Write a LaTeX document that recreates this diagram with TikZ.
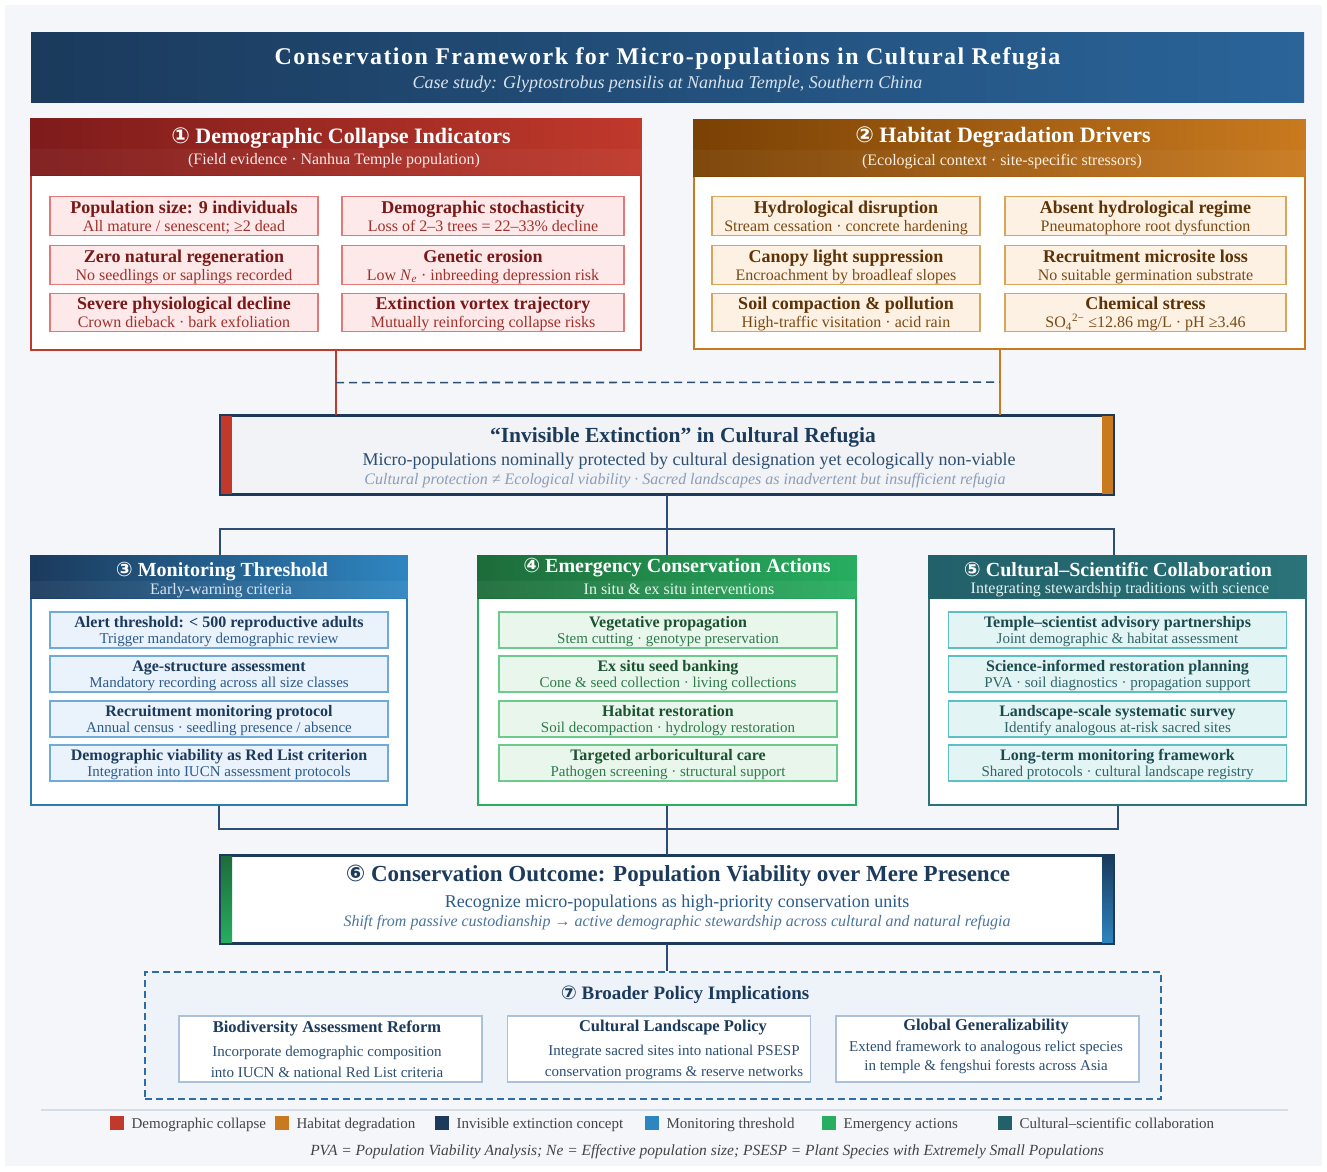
\documentclass[tikz,border=0pt]{standalone}
\usepackage{fontspec}
\setmainfont{Liberation Serif}
\newfontfamily\numfont{DejaVu Sans}
\usetikzlibrary{calc}

\newcommand{\fsz}[2]{\fontsize{#1}{#2}\selectfont}
\newcommand{\cn}[1]{{\numfont #1}}

\definecolor{pagebg}{HTML}{F4F6FA}
\definecolor{conceptbg}{HTML}{F1F3F6}
\definecolor{navy}{HTML}{1B3A5C}
\definecolor{navyB}{HTML}{2A6499}
\definecolor{linknavy}{HTML}{2C4E72}
\definecolor{mutedblue}{HTML}{8C9CB6}
\definecolor{redA}{HTML}{7E1B1B}
\definecolor{redB}{HTML}{C0392B}
\definecolor{redfill}{HTML}{FDE9E9}
\definecolor{rededge}{HTML}{E27878}
\definecolor{redtext}{HTML}{7A1818}
\definecolor{redsub}{HTML}{A0302A}
\definecolor{orA}{HTML}{7A4104}
\definecolor{orB}{HTML}{C97A1F}
\definecolor{orfill}{HTML}{FDF1E3}
\definecolor{oredge}{HTML}{D9A45C}
\definecolor{ortext}{HTML}{5C3206}
\definecolor{orsub}{HTML}{7B4A14}
\definecolor{blB}{HTML}{2E86C1}
\definecolor{blfill}{HTML}{EAF2FB}
\definecolor{bledge}{HTML}{6FAADB}
\definecolor{blsub}{HTML}{2B5B8C}
\definecolor{grA}{HTML}{1D6B3A}
\definecolor{grB}{HTML}{27AE60}
\definecolor{grfill}{HTML}{E8F6EC}
\definecolor{gredge}{HTML}{6CCB8C}
\definecolor{grtext}{HTML}{1B5230}
\definecolor{grsub}{HTML}{2F7A4C}
\definecolor{tlA}{HTML}{22606A}
\definecolor{tlB}{HTML}{2A7378}
\definecolor{tlfill}{HTML}{E3F4F4}
\definecolor{tledge}{HTML}{5BBFC4}
\definecolor{tltext}{HTML}{1B4A4E}
\definecolor{tlsub}{HTML}{2F6468}
\definecolor{polfill}{HTML}{EEF3F9}
\definecolor{poledge}{HTML}{A9C1DA}
\definecolor{polline}{HTML}{2E6CA8}
\definecolor{sepline}{HTML}{D5DEE8}
\definecolor{legtext}{HTML}{444444}

\begin{document}
\begin{tikzpicture}[x=1pt, y=-1pt,
    every node/.style={inner sep=0pt, align=center},
    frame/.style={draw, fill=white, line width=1.6pt},
    hdtitle/.style={text=white, font=\fsz{22}{24}\bfseries},
    hdsub/.style={font=\fsz{16}{18}},
    item/.style={draw, line width=1.2pt, text depth=0pt},
    bigitem/.style={item, minimum height=38.5pt, font=\fsz{16}{18}},
    smallitem/.style={item, minimum width=338pt, minimum height=36pt, font=\fsz{15}{16.5}},
    reditem/.style={bigitem, fill=redfill, draw=rededge, text=redsub},
    oritem/.style={bigitem, fill=orfill, draw=oredge, text=orsub},
    blitem/.style={smallitem, fill=blfill, draw=bledge, text=blsub},
    gritem/.style={smallitem, fill=grfill, draw=gredge, text=grsub},
    tlitem/.style={smallitem, fill=tlfill, draw=tledge, text=tlsub},
    link/.style={draw=linknavy, line width=2pt},
    polbox/.style={draw=poledge, fill=white, line width=1.2pt, minimum width=303pt, minimum height=66pt},
  ]

  % page
  \fill[white] (0,0) rectangle (1327,1171);
  \fill[pagebg] (5,5) rectangle (1322,1166);
  \useasboundingbox (0,0) rectangle (1327,1171);

  % banner
  \shade[left color=navy, right color=navyB] (31,32) rectangle (1304,102);
  \node[text=white, font=\fsz{24}{26}\bfseries\addfontfeatures{LetterSpace=6}] (title) at (667.5,59)
    {Conservation Framework for Micro-populations in Cultural Refugia};
  \node[text=white!82!navyB, font=\fsz{18}{20}\itshape] (subtitle) at (667.5,84)
    {Case study: Glyptostrobus pensilis at Nanhua Temple, Southern China};

  % panel 1: demographic collapse
  \node[frame, draw=redB, minimum width=610pt, minimum height=231pt] (p1) at (336,234.5) {};
  \shade[left color=redA, right color=redB] (p1.north west) rectangle ($(p1.north east)+(0,57)$);
  \fill[white, opacity=.04] ($(p1.north west)+(0,31)$) rectangle ($(p1.north east)+(0,57)$);
  \node[hdtitle] (p1t) at (341,138) {\cn{①} Demographic Collapse Indicators};
  \node[hdsub, text=redfill] (p1s) at (334,161) {(Field evidence · Nanhua Temple population)};

  \node[reditem, minimum width=268pt] (d1) at (184,216)
    {\textcolor{redtext}{\fsz{18}{18}\bfseries Population size: 9 individuals}\\All mature / senescent; ≥2 dead};
  \node[reditem, minimum width=282pt] (d2) at (483,216)
    {\textcolor{redtext}{\fsz{18}{18}\bfseries Demographic stochasticity}\\Loss of 2–3 trees = 22–33\% decline};
  \node[reditem, minimum width=268pt] (d3) at (184,265)
    {\textcolor{redtext}{\fsz{18}{18}\bfseries Zero natural regeneration}\\No seedlings or saplings recorded};
  \node[reditem, minimum width=282pt] (d4) at (483,265)
    {\textcolor{redtext}{\fsz{18}{18}\bfseries Genetic erosion}\\Low \textit{N}\textsubscript{\textit{e}} · inbreeding depression risk};
  \node[reditem, minimum width=268pt] (d5) at (184,312.5)
    {\textcolor{redtext}{\fsz{18}{18}\bfseries Severe physiological decline}\\Crown dieback · bark exfoliation};
  \node[reditem, minimum width=282pt] (d6) at (483,312.5)
    {\textcolor{redtext}{\fsz{18}{18}\bfseries Extinction vortex trajectory}\\Mutually reinforcing collapse risks};

  % panel 2: habitat degradation
  \node[frame, draw=orB, minimum width=611pt, minimum height=229pt] (p2) at (999.5,234.5) {};
  \shade[left color=orA, right color=orB] (p2.north west) rectangle ($(p2.north east)+(0,57)$);
  \fill[white, opacity=.04] ($(p2.north west)+(0,31)$) rectangle ($(p2.north east)+(0,57)$);
  \node[hdtitle] (p2t) at (1003,137) {\cn{②} Habitat Degradation Drivers};
  \node[hdsub, text=orfill] (p2s) at (1002,162) {(Ecological context · site-specific stressors)};

  \node[oritem, minimum width=268pt] (h1) at (846,216)
    {\textcolor{ortext}{\fsz{18}{18}\bfseries Hydrological disruption}\\Stream cessation · concrete hardening};
  \node[oritem, minimum width=281pt] (h2) at (1145.5,216)
    {\textcolor{ortext}{\fsz{18}{18}\bfseries Absent hydrological regime}\\Pneumatophore root dysfunction};
  \node[oritem, minimum width=268pt] (h3) at (846,265)
    {\textcolor{ortext}{\fsz{18}{18}\bfseries Canopy light suppression}\\Encroachment by broadleaf slopes};
  \node[oritem, minimum width=281pt] (h4) at (1145.5,265)
    {\textcolor{ortext}{\fsz{18}{18}\bfseries Recruitment microsite loss}\\No suitable germination substrate};
  \node[oritem, minimum width=268pt] (h5) at (846,312.5)
    {\textcolor{ortext}{\fsz{18}{18}\bfseries Soil compaction \& pollution}\\High-traffic visitation · acid rain};
  \node[oritem, minimum width=281pt] (h6) at (1145.5,312.5)
    {\textcolor{ortext}{\fsz{18}{18}\bfseries Chemical stress}\\SO\textsubscript{4}\textsuperscript{2−} ≤12.86 mg/L · pH ≥3.46};

  % central concept
  \node[draw=navy, fill=conceptbg, line width=2pt, minimum width=892pt, minimum height=78pt] (ie) at (667,454.5) {};
  \fill[redB] (ie.north west) rectangle ($(ie.south west)+(12,0)$);
  \fill[orB] ($(ie.north east)+(-12,0)$) rectangle (ie.south east);
  \draw[navy, line width=2pt] (ie.north west) rectangle (ie.south east);
  \node[text=navy, font=\fsz{21.5}{24}\bfseries] (iet) at (683,437) {“Invisible Extinction” in Cultural Refugia};
  \node[text=linknavy, font=\fsz{18}{20}] (ies) at (689,461)
    {Micro-populations nominally protected by cultural designation yet ecologically non-viable};
  \node[text=mutedblue, font=\fsz{16}{18}\itshape] (iei) at (685,481)
    {Cultural protection ≠ Ecological viability · Sacred landscapes as inadvertent but insufficient refugia};

  % links into the concept box
  \draw[redB, line width=2pt] (p1.south) -- (p1.south |- ie.north);
  \draw[orB, line width=2pt] (p2.south) -- (p2.south |- ie.north);
  \draw[linknavy, line width=1.6pt, dash pattern=on 8pt off 5pt]
    ($(p1.south)!.5!(p1.south |- ie.north)$) -- ($(p2.south)!.5!(p2.south |- ie.north)$);

  % panel 3: monitoring
  \node[frame, draw=blB!85!navy, minimum width=376pt, minimum height=249pt] (p3) at (219,680.5) {};
  \shade[left color=navy, right color=blB] (p3.north west) rectangle ($(p3.north east)+(0,43)$);
  \fill[white, opacity=.05] ($(p3.north west)+(0,26)$) rectangle ($(p3.north east)+(0,43)$);
  \node[hdtitle, font=\fsz{20}{22}\bfseries] (p3t) at (222,572) {\cn{③} Monitoring Threshold};
  \node[hdsub, text=blfill!90!blB] (p3s) at (221,591) {Early-warning criteria};

  \node[blitem] (m1) at (219,630) {\textcolor{navy}{\bfseries\fsz{16}{16.5}Alert threshold: < 500 reproductive adults}\\Trigger mandatory demographic review};
  \node[blitem] (m2) at (219,674) {\textcolor{navy}{\bfseries\fsz{16}{16.5}Age-structure assessment}\\Mandatory recording across all size classes};
  \node[blitem] (m3) at (219,719) {\textcolor{navy}{\bfseries\fsz{16}{16.5}Recruitment monitoring protocol}\\Annual census · seedling presence / absence};
  \node[blitem] (m4) at (219,763) {\textcolor{navy}{\bfseries\fsz{16}{16.5}Demographic viability as Red List criterion}\\Integration into IUCN assessment protocols};

  % panel 4: emergency actions
  \node[frame, draw=grB, minimum width=378pt, minimum height=249pt] (p4) at (667,680.5) {};
  \shade[left color=grA, right color=grB] (p4.north west) rectangle ($(p4.north east)+(0,43)$);
  \fill[white, opacity=.05] ($(p4.north west)+(0,26)$) rectangle ($(p4.north east)+(0,43)$);
  \node[hdtitle, font=\fsz{20}{22}\bfseries] (p4t) at (677,568) {\cn{④} Emergency Conservation Actions};
  \node[hdsub, text=grfill] (p4s) at (679,589) {In situ \& ex situ interventions};

  \node[gritem] (e1) at (668,630) {\textcolor{grtext}{\bfseries\fsz{16}{16.5}Vegetative propagation}\\Stem cutting · genotype preservation};
  \node[gritem] (e2) at (668,674) {\textcolor{grtext}{\bfseries\fsz{16}{16.5}Ex situ seed banking}\\Cone \& seed collection · living collections};
  \node[gritem] (e3) at (668,719) {\textcolor{grtext}{\bfseries\fsz{16}{16.5}Habitat restoration}\\Soil decompaction · hydrology restoration};
  \node[gritem] (e4) at (668,763) {\textcolor{grtext}{\bfseries\fsz{16}{16.5}Targeted arboricultural care}\\Pathogen screening · structural support};

  % panel 5: cultural-scientific collaboration
  \node[frame, draw=tlB, minimum width=377pt, minimum height=249pt] (p5) at (1117.5,680.5) {};
  \shade[left color=tlA, right color=tlB] (p5.north west) rectangle ($(p5.north east)+(0,43)$);
  \node[hdtitle, font=\fsz{20}{22}\bfseries] (p5t) at (1118,569) {\cn{⑤} Cultural–Scientific Collaboration};
  \node[hdsub, text=tlfill] (p5s) at (1120,590) {Integrating stewardship traditions with science};

  \node[tlitem] (c1) at (1117.5,630) {\textcolor{tltext}{\bfseries\fsz{16}{16.5}Temple–scientist advisory partnerships}\\Joint demographic \& habitat assessment};
  \node[tlitem] (c2) at (1117.5,674) {\textcolor{tltext}{\bfseries\fsz{16}{16.5}Science-informed restoration planning}\\PVA · soil diagnostics · propagation support};
  \node[tlitem] (c3) at (1117.5,719) {\textcolor{tltext}{\bfseries\fsz{16}{16.5}Landscape-scale systematic survey}\\Identify analogous at-risk sacred sites};
  \node[tlitem] (c4) at (1117.5,763) {\textcolor{tltext}{\bfseries\fsz{16}{16.5}Long-term monitoring framework}\\Shared protocols · cultural landscape registry};

  % concept -> three responses
  \coordinate (split) at ($(ie.south)+(0,34)$);
  \draw[link] (ie.south) -- (p4.north);
  \draw[link] (p3.north -| ie.west) |- (split) -| (p5.north -| ie.east);

  % outcome
  \node[draw=navy, fill=white, line width=2pt, minimum width=892pt, minimum height=87pt] (out) at (667,899.5) {};
  \shade[top color=grA, bottom color=grB] (out.north west) rectangle ($(out.south west)+(12,0)$);
  \shade[top color=navy, bottom color=blB] ($(out.north east)+(-12,0)$) rectangle (out.south east);
  \draw[navy, line width=2pt] (out.north west) rectangle (out.south east);
  \node[text=navy, font=\fsz{23}{25}\bfseries] (outt) at (678,876)
    {\cn{⑥} Conservation Outcome: Population Viability over Mere Presence};
  \node[text=blsub, font=\fsz{18}{20}] (outs) at (677,903) {Recognize micro-populations as high-priority conservation units};
  \node[text=blsub!85!white, font=\fsz{16}{18}\itshape] (outi) at (677,923)
    {Shift from passive custodianship → active demographic stewardship across cultural and natural refugia};

  % responses -> outcome
  \coordinate (merge) at ($(out.north)+(0,-26)$);
  \draw[link] (p3.south) |- (merge) -| (p5.south);
  \draw[link] (p4.south) -- (out.north);

  % policy implications
  \node[draw=polline, fill=polfill, line width=1.6pt, dash pattern=on 7pt off 4pt,
        minimum width=1016pt, minimum height=127pt] (pol) at (653,1035.5) {};
  \draw[link] (out.south) -- (out.south |- pol.north);
  \node[text=navy, font=\fsz{19}{21}\bfseries] (polt) at (685,995) {\cn{⑦} Broader Policy Implications};

  \node[polbox] (pb1) at (330.5,1049) {};
  \node[polbox] (pb2) at (659,1049) {};
  \node[polbox] (pb3) at (987.5,1049) {};
  \node[text=navy, font=\fsz{16.5}{18}\bfseries] (pb1t) at (327,1028) {Biodiversity Assessment Reform};
  \node[text=linknavy, font=\fsz{15}{21}] (pb1s) at (327,1062) {Incorporate demographic composition\\into IUCN \& national Red List criteria};
  \node[text=navy, font=\fsz{16.5}{18}\bfseries] (pb2t) at (673,1028) {Cultural Landscape Policy};
  \node[text=linknavy, font=\fsz{15}{21}] (pb2s) at (674,1062) {Integrate sacred sites into national PSESP\\conservation programs \& reserve networks};
  \node[text=navy, font=\fsz{16.5}{18}\bfseries] (pb3t) at (986,1027) {Global Generalizability};
  \node[text=linknavy, font=\fsz{15}{19}] (pb3s) at (986,1057) {Extend framework to analogous relict species\\in temple \& fengshui forests across Asia};

  % legend
  \draw[sepline, line width=1.2pt] (41,1110) -- (1288,1110);
  \foreach \c/\x/\t [count=\i] in {redB/110/Demographic collapse, orB/275/Habitat degradation,
      navy/435/Invisible extinction concept, blB/645/Monitoring threshold,
      grB/822/Emergency actions, tlA/998/Cultural–scientific collaboration}
  {
    \node[fill=\c, minimum width=14pt, minimum height=14pt, anchor=west] (key\i) at (\x,1123) {};
    \node[anchor=base west, text=legtext, font=\fsz{15}{17}] (lab\i) at ($(key\i.east)+(7,5)$) {\t};
  }
  \node[text=legtext, font=\fsz{15.5}{17}\itshape] (note) at (707,1152)
    {PVA = Population Viability Analysis; Ne = Effective population size; PSESP = Plant Species with Extremely Small Populations};
\end{tikzpicture}
\end{document}
